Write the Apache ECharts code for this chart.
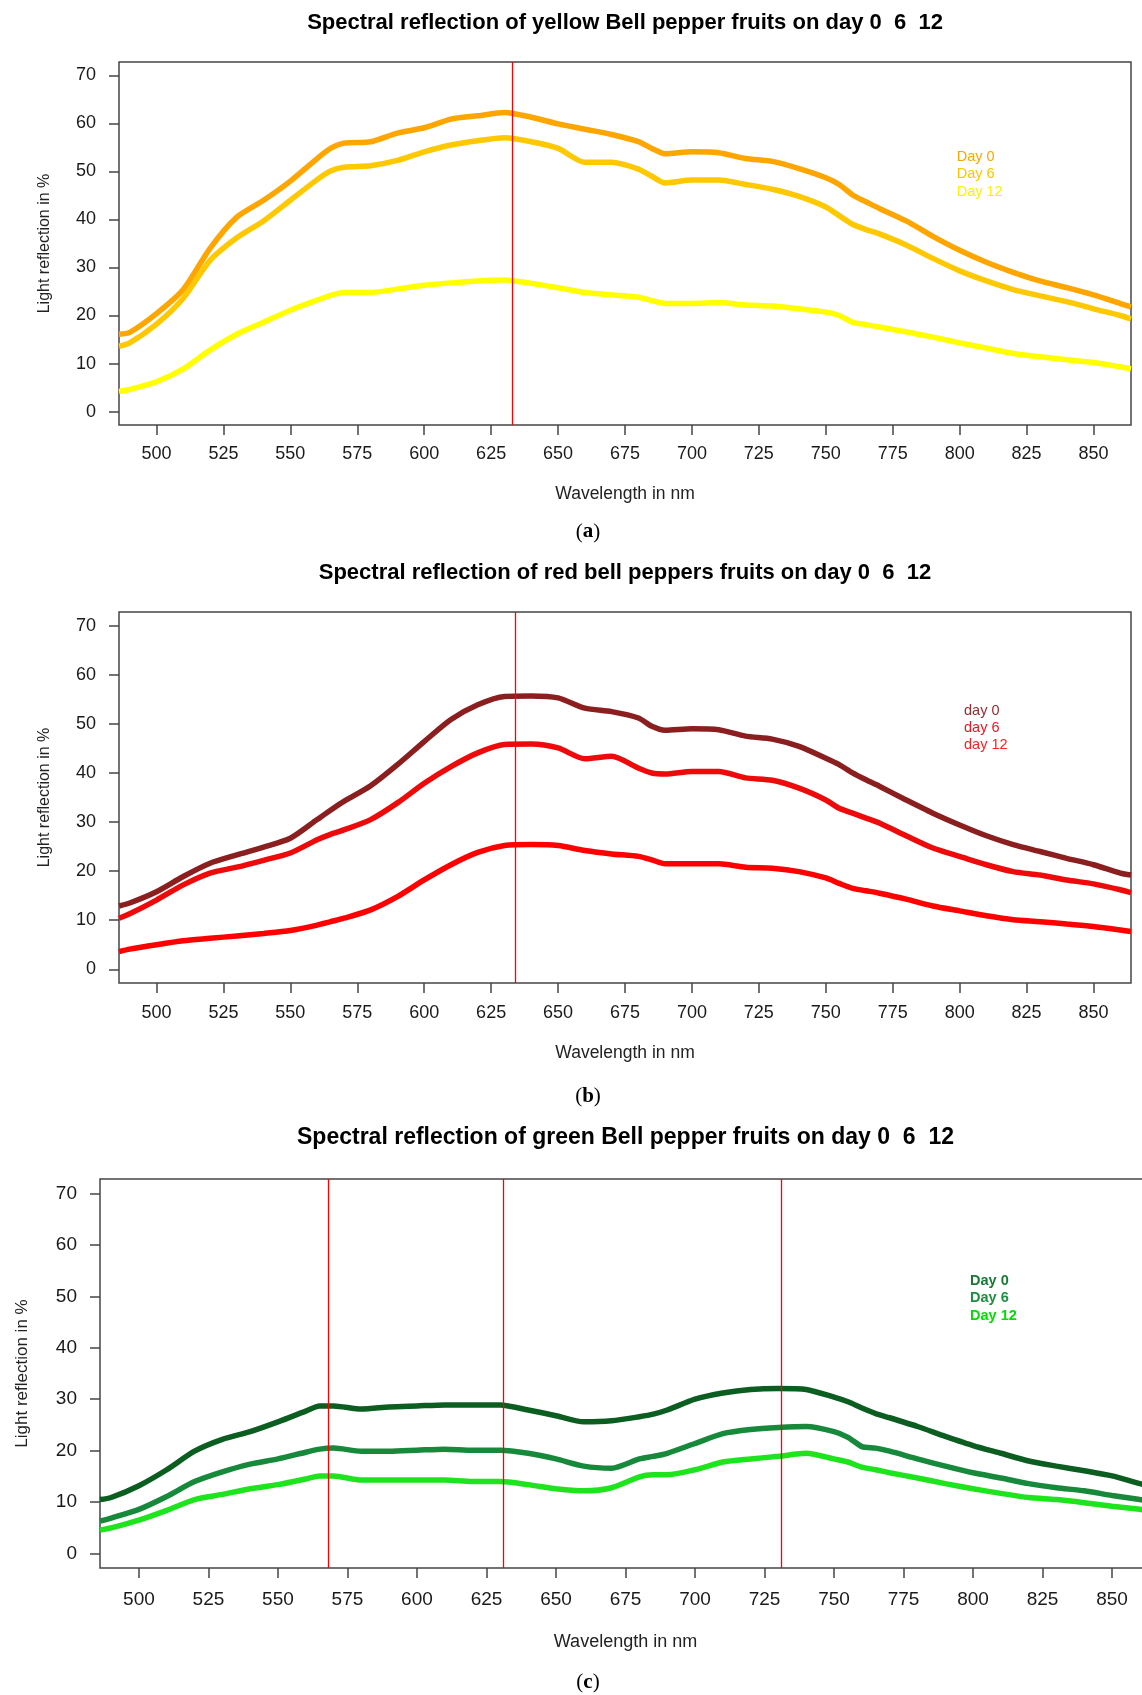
<!DOCTYPE html>
<html><head><meta charset="utf-8">
<script src="https://cdn.jsdelivr.net/npm/echarts@6/dist/echarts.min.js"></script>
<style>html,body{margin:0;padding:0;background:#fff}#chart{width:1142px;height:1695px}</style>
</head><body><div id="chart"></div>
<script>
// ---- data ----
const wavelength = [486,490,500,510,520,530,540,550,560,565,570,580,590,600,610,620,630,640,650,660,670,680,685,690,700,710,720,730,740,750,755,760,765,770,780,790,800,810,820,830,840,850,860,864];

const yellowDay0  = [16.1,16.5,20.4,25.4,34.0,40.5,44.0,48.0,52.7,54.8,55.9,56.2,58.0,59.1,60.9,61.6,62.3,61.3,59.9,58.8,57.7,56.2,54.8,53.7,54.1,53.9,52.7,52.1,50.6,48.7,47.3,45.1,43.7,42.3,39.7,36.5,33.6,31.1,29.0,27.2,25.8,24.3,22.5,21.8];
const yellowDay6  = [13.6,14.3,18.2,23.6,31.5,36.2,39.7,44.0,48.3,50.1,50.9,51.2,52.3,54.1,55.5,56.4,57.0,56.2,54.8,51.9,51.9,50.5,49.0,47.6,48.2,48.2,47.3,46.3,44.8,42.6,40.8,39.0,37.9,37.0,34.7,31.9,29.3,27.2,25.4,24.1,22.9,21.4,20.0,19.3];
const yellowDay12 = [4.2,4.6,6.2,8.9,12.8,16.1,18.6,21.1,23.2,24.2,24.8,24.8,25.5,26.3,26.8,27.2,27.4,26.7,25.8,24.8,24.3,23.8,23.1,22.5,22.5,22.7,22.2,22.0,21.4,20.7,20.0,18.6,18.1,17.6,16.6,15.5,14.3,13.2,12.1,11.4,10.8,10.2,9.3,8.9];

const redDay0  = [12.9,13.5,15.8,18.9,21.6,23.3,24.9,26.7,30.5,32.4,34.2,37.4,41.7,46.4,50.9,53.9,55.6,55.7,55.3,53.2,52.5,51.2,49.5,48.7,49.0,48.8,47.5,46.9,45.4,43.0,41.7,40.0,38.6,37.3,34.5,31.8,29.4,27.2,25.4,24.0,22.6,21.3,19.6,19.2];
const redDay6  = [10.4,11.3,14.1,17.2,19.6,20.8,22.2,23.7,26.4,27.5,28.4,30.5,33.9,37.9,41.3,44.1,45.8,45.9,45.1,42.9,43.4,41.0,40.0,39.8,40.3,40.3,39.0,38.5,36.9,34.5,32.8,31.8,30.8,29.8,27.2,24.7,23.0,21.3,19.9,19.2,18.2,17.4,16.2,15.6];
const redDay12 = [3.6,4.1,5.0,5.8,6.3,6.8,7.3,7.9,9.0,9.7,10.4,12.1,14.8,18.2,21.3,23.8,25.2,25.4,25.2,24.2,23.5,23.0,22.3,21.5,21.5,21.5,20.8,20.6,19.9,18.6,17.5,16.5,16.0,15.5,14.3,12.9,11.9,10.9,10.1,9.7,9.2,8.7,8.0,7.7];

const greenDay0  = [10.5,10.9,13.2,16.3,19.9,22.2,23.7,25.6,27.7,28.7,28.7,28.1,28.5,28.7,28.9,28.9,28.9,27.9,26.8,25.6,25.8,26.6,27.1,27.9,30.0,31.2,31.9,32.1,31.9,30.4,29.5,28.3,27.2,26.4,24.7,22.8,21.0,19.5,18.0,17.0,16.1,15.1,13.6,13.2];
const greenDay6  = [6.3,6.9,8.6,11.1,14.0,15.9,17.4,18.4,19.7,20.3,20.5,19.9,19.9,20.1,20.3,20.1,20.1,19.5,18.4,17.0,16.6,18.4,18.9,19.5,21.4,23.3,24.1,24.5,24.7,23.7,22.6,20.8,20.5,19.9,18.4,17.0,15.7,14.7,13.6,12.8,12.2,11.3,10.5,10.2];
const greenDay12 = [4.6,5.0,6.5,8.4,10.5,11.5,12.6,13.4,14.5,15.1,15.1,14.3,14.3,14.3,14.3,14.0,14.0,13.4,12.6,12.2,12.8,14.9,15.3,15.3,16.3,17.8,18.4,18.9,19.5,18.4,17.8,16.8,16.3,15.7,14.7,13.6,12.6,11.7,10.9,10.5,9.9,9.2,8.6,8.3];

const xTicks = [500,525,550,575,600,625,650,675,700,725,750,775,800,825,850];
const yTicks = [0,10,20,30,40,50,60,70];
const vlinesA = [633];
const vlinesB = [634];
const vlinesC = [568,631,731];

const titles = [
  'Spectral reflection of yellow Bell pepper fruits on day 0  6  12',
  'Spectral reflection of red bell peppers fruits on day 0  6  12',
  'Spectral reflection of green Bell pepper fruits on day 0  6  12'
];
const namesA = ['Day 0','Day 6','Day 12'];
const namesB = ['day 0','day 6','day 12'];
const namesC = ['Day 0','Day 6','Day 12'];

// ---- styling / layout ----
const FONT = 'Liberation Sans, Arial, sans-serif';
const colorsA = ['#FFA500','#FFC800','#FFFF00'];
const colorsB = ['#8B1E1E','#EE0A0A','#FF0000'];
const colorsC = ['#0B5E20','#17893B','#1EE41E'];
const legendColorsA = ['#FFA500','#FFC400','#FFF000'];
const legendColorsB = ['#9B2A30','#EE1520','#FF2020'];
const legendColorsC = ['#187A35','#1C9040','#00E000'];

const panels = [
  {grid:{left:119,top:62,width:1012,height:363}, series:[yellowDay0,yellowDay6,yellowDay12], names:namesA, colors:colorsA, lcolors:legendColorsA, vlines:vlinesA,
   tick:18, xname:17.5, yname:16, xmargin:20, xgap:60, ygap:66, title:22, titleTop:12, legend:{left:951.7, top:148.2, gap:17.5, bold:false}},
  {grid:{left:119,top:612,width:1012,height:371}, series:[redDay0,redDay6,redDay12], names:namesB, colors:colorsB, lcolors:legendColorsB, vlines:vlinesB,
   tick:18, xname:17.5, yname:16, xmargin:21, xgap:61, ygap:66, title:22, titleTop:562, legend:{left:959, top:702, gap:17.2, bold:false}},
  {grid:{left:100,top:1179,width:1051,height:389}, series:[greenDay0,greenDay6,greenDay12], names:namesC, colors:colorsC, lcolors:legendColorsC, vlines:vlinesC,
   tick:19, xname:18, yname:17, xmargin:22, xgap:65, ygap:69, title:23, titleTop:1126, legend:{left:965, top:1272, gap:17.6, bold:true}}
];

const option = {
  animation:false,
  backgroundColor:'#fff',
  title:[], grid:[], xAxis:[], yAxis:[], series:[], legend:[], graphic:[]
};

panels.forEach((p,pi)=>{
  option.grid.push(Object.assign({show:true, borderColor:'#454545', borderWidth:1.5, containLabel:false, outerBoundsMode:'none'}, p.grid));
  option.title.push({text:titles[pi], left:p.grid.left + p.grid.width/2, top:p.titleTop, textAlign:'center', padding:0,
    textStyle:{fontFamily:FONT, fontWeight:'bold', fontSize:p.title, color:'#000'}});
  option.xAxis.push({type:'value', gridIndex:pi, min:486, max:864,
    axisLine:{show:false, onZero:false}, splitLine:{show:false},
    axisTick:{show:true, inside:false, length:10, customValues:xTicks, lineStyle:{color:'#454545', width:1.5}},
    axisLabel:{customValues:xTicks, fontFamily:FONT, fontSize:p.tick, color:'#1a1a1a', margin:p.xmargin},
    name:'Wavelength in nm', nameLocation:'middle', nameGap:p.xgap,
    nameTextStyle:{fontFamily:FONT, fontSize:p.xname, color:'#222'}});
  option.yAxis.push({type:'value', gridIndex:pi, min:-2.8, max:72.8,
    axisLine:{show:false, onZero:false}, splitLine:{show:false},
    axisTick:{show:true, inside:false, length:10, customValues:yTicks, lineStyle:{color:'#454545', width:1.5}},
    axisLabel:{customValues:yTicks, fontFamily:FONT, fontSize:p.tick, color:'#1a1a1a', margin:23},
    name:'Light reflection in %', nameLocation:'middle', nameGap:p.ygap, nameRotate:90,
    nameTextStyle:{fontFamily:FONT, fontSize:p.yname, color:'#222'}});
  p.series.forEach((arr,si)=>{
    const s = {type:'line', name:p.names[si], xAxisIndex:pi, yAxisIndex:pi,
      data:wavelength.map((w,i)=>[w,arr[i]]), showSymbol:false, symbol:'none', smooth:0.25,
      lineStyle:{color:p.colors[si], width:5.5}, itemStyle:{color:p.colors[si]}, z:2+si, silent:true};
    if (si === p.series.length-1) {
      s.markLine = {silent:true, symbol:['none','none'], label:{show:false}, z:10,
        lineStyle:{color:'#FF0000', width:1.3, type:'solid', opacity:1},
        emphasis:{disabled:true},
        data:p.vlines.map(v=>({xAxis:v}))};
    }
    option.series.push(s);
  });
  option.legend.push({orient:'vertical', left:p.legend.left, top:p.legend.top, padding:0, itemGap:0,
    itemWidth:0, itemHeight:1, icon:'rect', selectedMode:false,
    itemStyle:{opacity:0}, lineStyle:{opacity:0},
    textStyle:{fontFamily:FONT, fontSize:14.5, lineHeight:p.legend.gap, fontWeight:p.legend.bold?'bold':'normal'},
    data:p.names.map((n,i)=>({name:n, textStyle:{color:p.lcolors[i]}}))});
});

const captions = [['a',588,532],['b',588,1096.5],['c',588,1682.5]];
captions.forEach(c=>{
  option.graphic.push({type:'text', x:c[1], y:c[2], silent:true,
    style:{text:'{p|(}{b|'+c[0]+'}{p|)}', align:'center', verticalAlign:'middle',
      rich:{p:{fontFamily:'Liberation Serif, serif', fontSize:21, color:'#000'},
            b:{fontFamily:'Liberation Serif, serif', fontSize:21, fontWeight:'bold', color:'#000'}}}});
});

const chart = echarts.init(document.getElementById('chart'), null, {renderer:'canvas'});
chart.setOption(option);
</script>
</body></html>
